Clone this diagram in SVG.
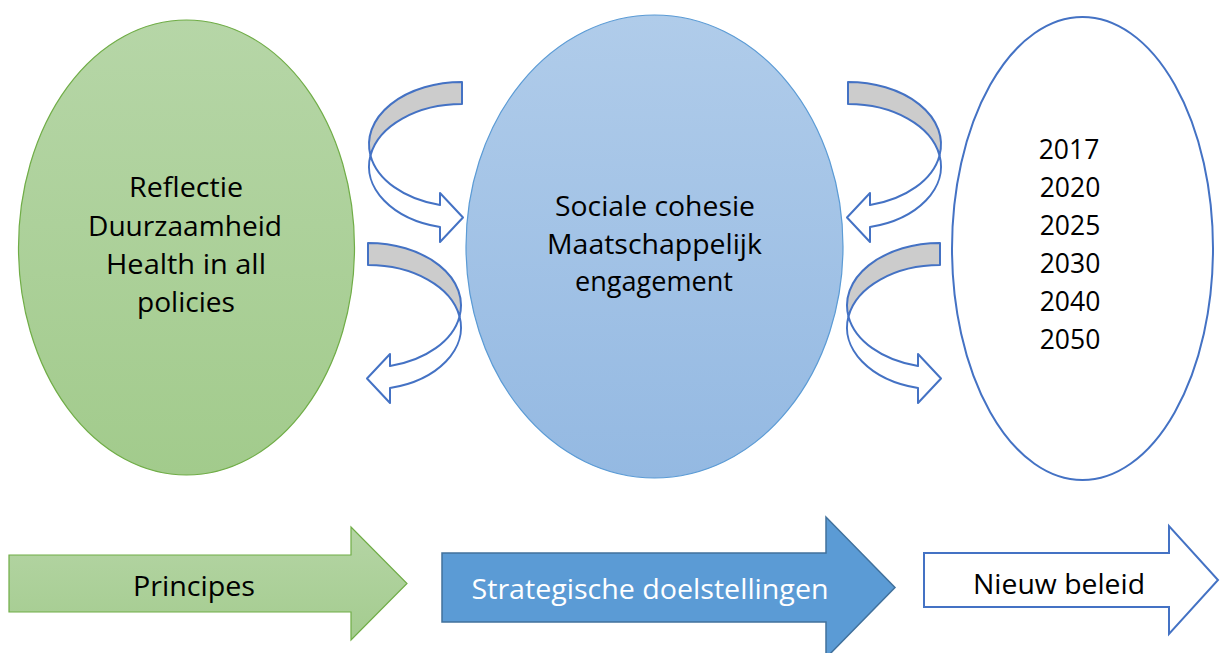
<svg xmlns="http://www.w3.org/2000/svg" xmlns:xlink="http://www.w3.org/1999/xlink" width="1220" height="653" viewBox="0 0 1220 653">
  <defs>
    <linearGradient id="gGreen" x1="0" y1="0" x2="0" y2="1">
      <stop offset="0" stop-color="#B6D6A7"/>
      <stop offset="1" stop-color="#A2CB8C"/>
    </linearGradient>
    <linearGradient id="gBlue" x1="0" y1="0" x2="0" y2="1">
      <stop offset="0" stop-color="#B0CCEA"/>
      <stop offset="1" stop-color="#94B9E2"/>
    </linearGradient>
    <linearGradient id="gGreenArrow" x1="0" y1="0" x2="0" y2="1">
      <stop offset="0" stop-color="#B5D5A5"/>
      <stop offset="1" stop-color="#A4CC8F"/>
    </linearGradient>
    <g id="curved">
      <path class="band" d="M 93,0 A 93 62.4 0 0 0 1.46,73.4 A 93 62.4 0 0 1 93,22 Z"/>
      <path class="front" d="M 1.46,73.4 A 93 62.4 0 0 0 71,123 L 71,111 L 94,135.5 L 71,160 L 71,145 A 93 62.4 0 0 1 1.46,73.4 Z"/>
    </g>
  </defs>
  <style>
    .lbl { font-family: "Open Sans", "Noto Sans", sans-serif; font-size: 28px; fill: #000000; text-anchor: middle; }
    .yr { font-size: 26.5px; }
    .lblw { fill: #FFFFFF; }
    .band { fill: #CCCCCC; stroke: #4472C4; stroke-width: 2; stroke-linejoin: round; }
    .front { fill: #FFFFFF; stroke: #4472C4; stroke-width: 2; stroke-linejoin: round; }
  </style>
  <rect x="0" y="0" width="1220" height="653" fill="#FFFFFF"/>

  <g id="node-principes-ellipse">
    <ellipse cx="186.5" cy="247.5" rx="168" ry="227.5" fill="url(#gGreen)" stroke="#70AD47" stroke-width="1.2"/>
    <text class="lbl" x="186" y="197" textLength="114" lengthAdjust="spacingAndGlyphs">Reflectie</text>
    <text class="lbl" x="185" y="235.5" textLength="194" lengthAdjust="spacingAndGlyphs">Duurzaamheid</text>
    <text class="lbl" x="186" y="274" textLength="160" lengthAdjust="spacingAndGlyphs">Health in all</text>
    <text class="lbl" x="186" y="312" textLength="98" lengthAdjust="spacingAndGlyphs">policies</text>
  </g>

  <g id="node-doelstellingen-ellipse">
    <ellipse cx="654.5" cy="246.5" rx="188.5" ry="231.5" fill="url(#gBlue)" stroke="#5B9BD5" stroke-width="1.2"/>
    <text class="lbl" x="655" y="216" textLength="200" lengthAdjust="spacingAndGlyphs">Sociale cohesie</text>
    <text class="lbl" x="654.5" y="253.5" textLength="215" lengthAdjust="spacingAndGlyphs">Maatschappelijk</text>
    <text class="lbl" x="654" y="291" textLength="158" lengthAdjust="spacingAndGlyphs">engagement</text>
  </g>

  <g id="node-jaren-ellipse">
    <ellipse cx="1082.5" cy="248.5" rx="130.5" ry="231.5" fill="#FFFFFF" stroke="#4472C4" stroke-width="2"/>
    <text class="lbl yr" x="1069" y="159">2017</text>
    <text class="lbl yr" x="1070" y="197">2020</text>
    <text class="lbl yr" x="1070" y="235">2025</text>
    <text class="lbl yr" x="1070" y="273">2030</text>
    <text class="lbl yr" x="1070" y="310.5">2040</text>
    <text class="lbl yr" x="1070" y="348.5">2050</text>
  </g>

  <g id="connectors">
    <use xlink:href="#curved" href="#curved" transform="translate(369,82)"/>
    <use xlink:href="#curved" href="#curved" transform="translate(461,243) scale(-1,1)"/>
    <use xlink:href="#curved" href="#curved" transform="translate(941,82) scale(-1,1)"/>
    <use xlink:href="#curved" href="#curved" transform="translate(847,243)"/>
  </g>

  <g id="node-principes-arrow">
    <polygon points="9,555 351,555 351,527 407,583.5 351,640 351,612 9,612" fill="url(#gGreenArrow)" stroke="#70AD47" stroke-width="1.2"/>
    <text class="lbl" x="194" y="596" textLength="122" lengthAdjust="spacingAndGlyphs">Principes</text>
  </g>

  <g id="node-strategische-arrow">
    <polygon points="442,553 826,553 826,517 895,587.5 826,658 826,622 442,622" fill="#5B9BD5" stroke="#41719C" stroke-width="1.5"/>
    <text class="lbl lblw" x="650" y="599" textLength="357" lengthAdjust="spacingAndGlyphs">Strategische doelstellingen</text>
  </g>

  <g id="node-nieuw-arrow">
    <polygon points="924,553 1169,553 1169,526 1218,580 1169,634 1169,607 924,607" fill="#FFFFFF" stroke="#4472C4" stroke-width="2"/>
    <text class="lbl" x="1059" y="594" textLength="172" lengthAdjust="spacingAndGlyphs">Nieuw beleid</text>
  </g>
</svg>
